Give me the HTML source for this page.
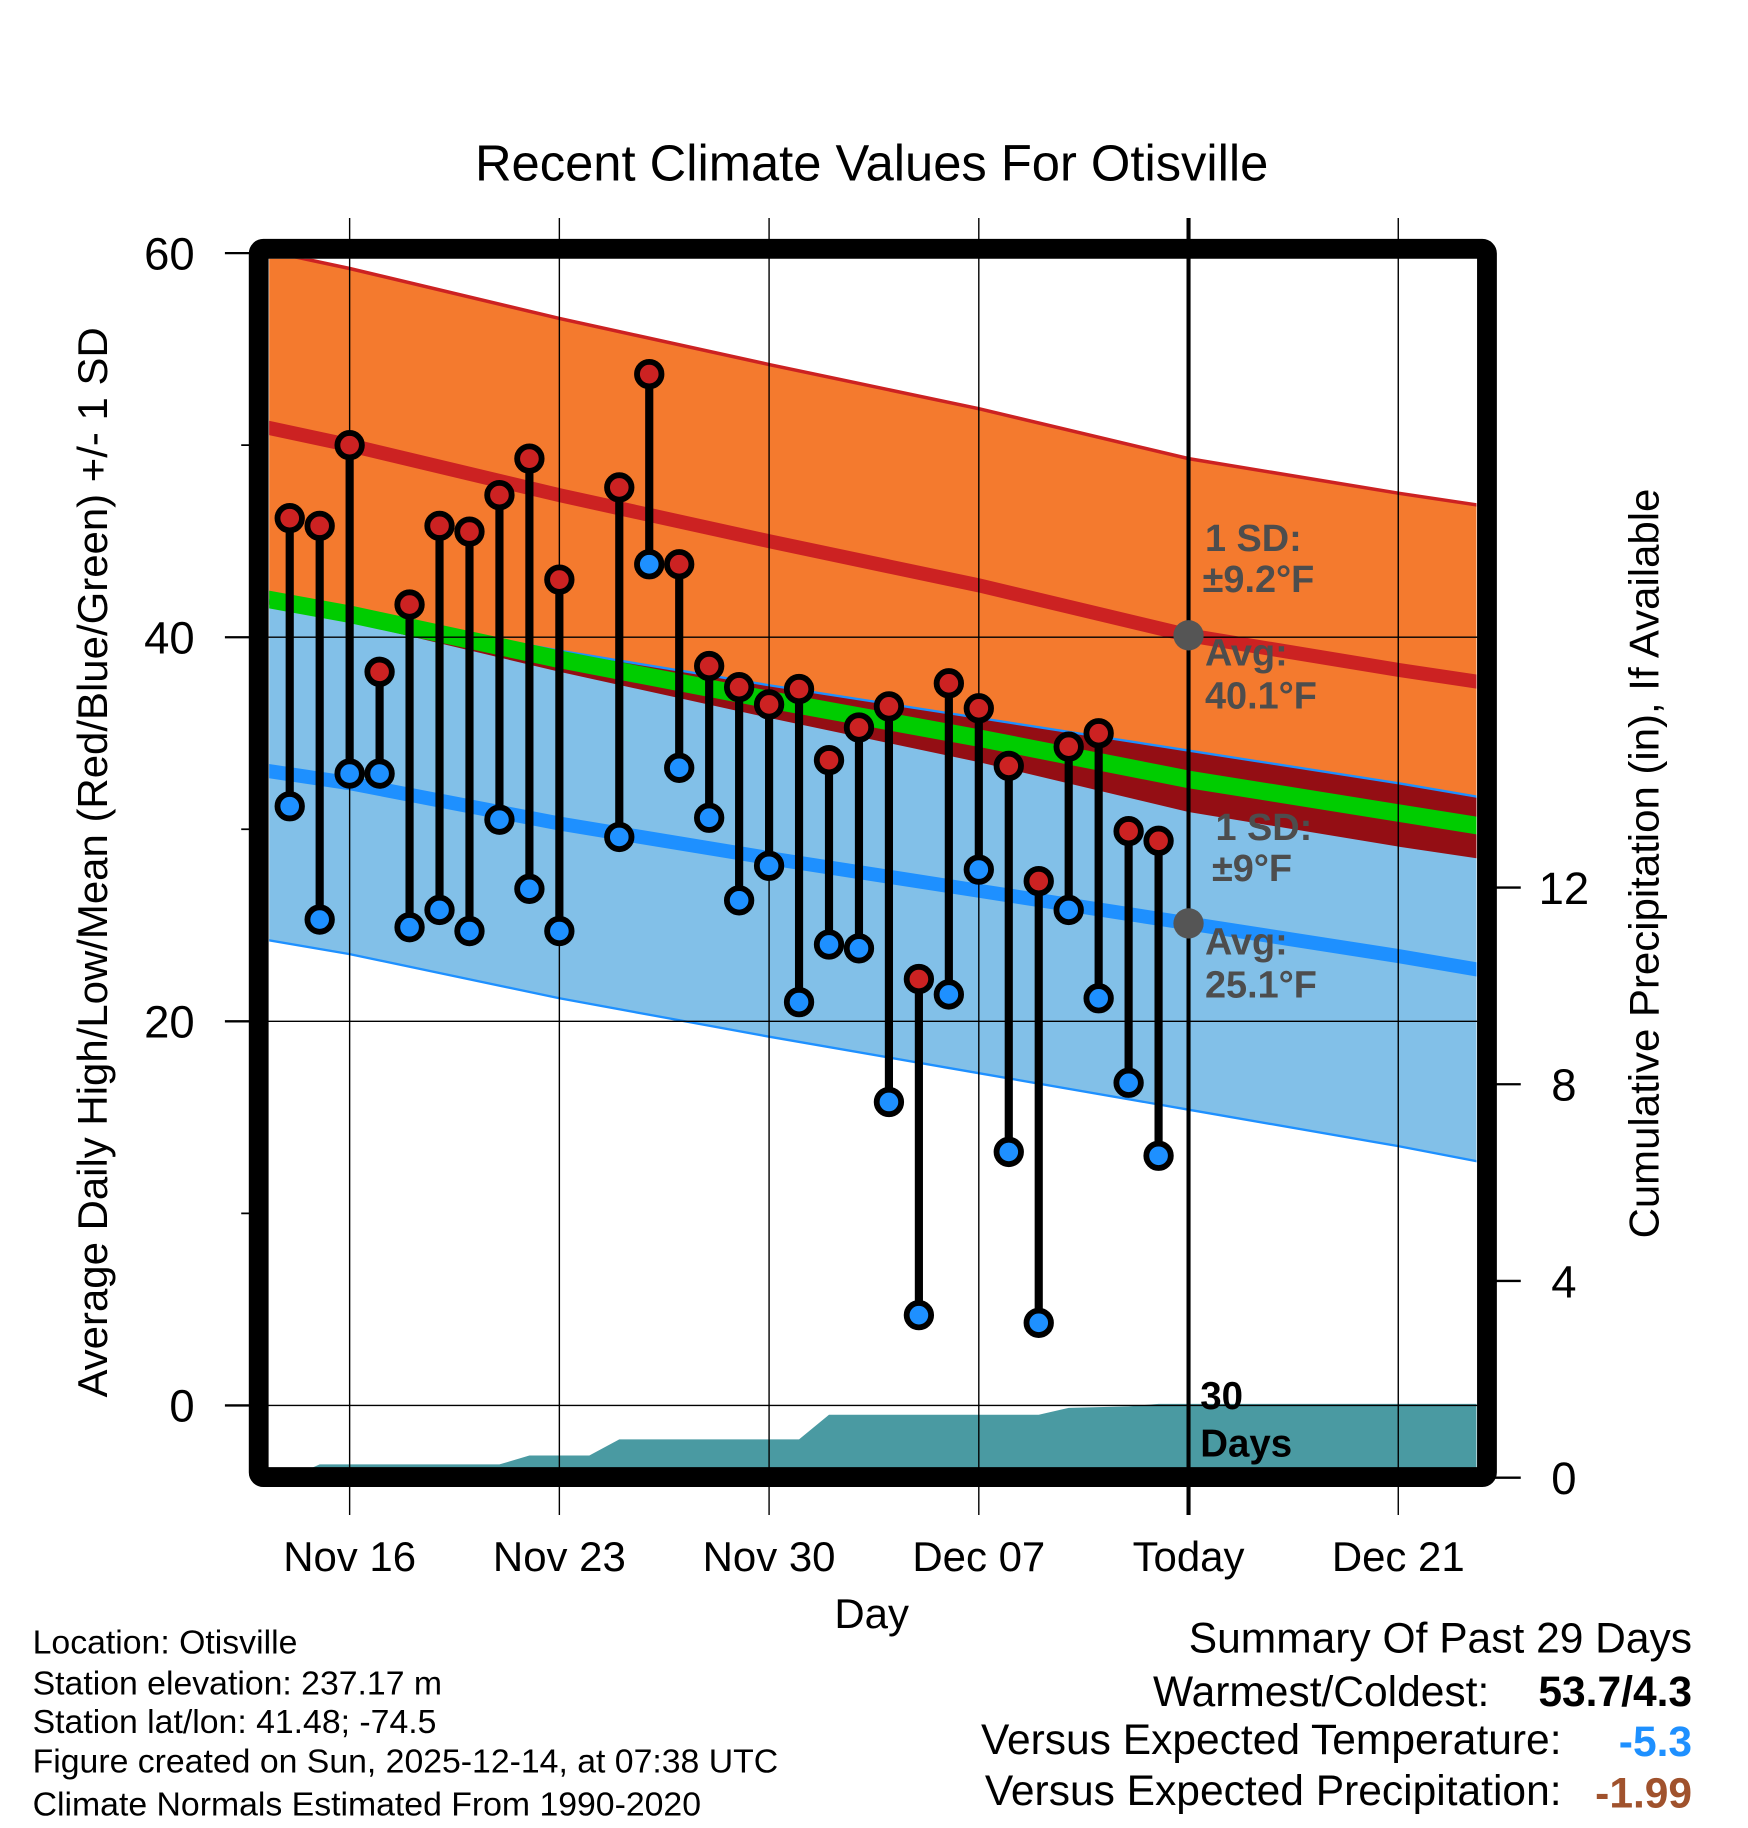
<!DOCTYPE html>
<html><head><meta charset="utf-8"><style>
html,body{margin:0;padding:0;background:#fff;}
svg{display:block;font-family:"Liberation Sans",Arial,sans-serif;}
</style></head><body>
<svg id="chart" xmlns="http://www.w3.org/2000/svg" width="1748" height="1828" viewBox="0 0 1500 1568.6">
<defs><clipPath id="plotclip"><rect x="231" y="222" width="1036" height="1038"/></clipPath></defs>
<text x="748" y="155" font-size="43.5" text-anchor="middle">Recent Climate Values For Otisville</text>
<g id="bands" clip-path="url(#plotclip)"></g>
<g id="grid"></g>
<g id="marks"></g>
<g id="axes"></g>
<text x="748" y="1397" font-size="36" text-anchor="middle">Day</text>
<text transform="translate(92,740) rotate(-90)" font-size="36" text-anchor="middle">Average Daily High/Low/Mean (Red/Blue/Green) +/- 1 SD</text>
<text transform="translate(1423,741) rotate(-90)" font-size="36" text-anchor="middle">Cumulative Precipitation (in), If Available</text>
<g font-size="29">
<text x="28" y="1419">Location: Otisville</text>
<text x="28" y="1454">Station elevation: 237.17 m</text>
<text x="28" y="1487">Station lat/lon: 41.48; -74.5</text>
<text x="28" y="1521">Figure created on Sun, 2025-12-14, at 07:38 UTC</text>
<text x="28" y="1558">Climate Normals Estimated From 1990-2020</text>
</g>
<g font-size="36.5" text-anchor="end">
<text x="1452" y="1418">Summary Of Past 29 Days</text>
<text x="1278" y="1464">Warmest/Coldest:</text>
<text x="1452" y="1464" font-weight="bold">53.7/4.3</text>
<text x="1340" y="1505">Versus Expected Temperature:</text>
<text x="1452" y="1507" font-weight="bold" fill="#1e90ff">-5.3</text>
<text x="1340" y="1549">Versus Expected Precipitation:</text>
<text x="1452" y="1551" font-weight="bold" fill="#a0522d">-1.99</text>
</g>
</svg>
<script>
// Data (days counted from Nov 13 = 0)
const normDays = [0, 3, 10, 17, 24, 31, 38, 41];
const normHigh = [51.0, 50.0, 47.4, 45.0, 42.7, 40.1, 38.3, 37.6];
const normLow = [33.1, 32.4, 30.3, 28.5, 26.8, 25.1, 23.4, 22.6];
const sdHigh = 9.2;
const sdLowUpper = [8.9, 8.9, 9.0, 9.0, 9.0, 9.0, 9.0, 9.0];
const sdLowLower = [8.8, 8.9, 9.1, 9.3, 9.5, 9.7, 9.9, 10.0];
const obsDays = [1,2,3,4,5,6,7,8,9,10,12,13,14,15,16,17,18,19,20,21,22,23,24,25,26,27,28,29,30];
const obsHigh = [46.2,45.8,50.0,38.2,41.7,45.8,45.5,47.4,49.3,43.0,47.8,53.7,43.8,38.5,37.4,36.5,37.3,33.6,35.3,36.4,22.2,37.6,36.3,33.3,27.3,34.3,35.0,29.9,29.4];
const obsLow = [31.2,25.3,32.9,32.9,24.9,25.8,24.7,30.5,26.9,24.7,29.6,43.8,33.2,30.6,26.3,28.1,21.0,24.0,23.8,15.8,4.7,21.4,27.9,13.2,4.3,25.8,21.2,16.8,13.0];
const precipDays = [0,1,2,8,9,10,11,12,18,19,26,27,29,30,41];
const precipCum = [0,0,0.27,0.27,0.45,0.45,0.45,0.78,0.78,1.28,1.28,1.42,1.45,1.5,1.5];
const xTickDays = [3,10,17,24,31,38];
const xTickLabels = ["Nov 16","Nov 23","Nov 30","Dec 07","Today","Dec 21"];
const yTicks = [0,20,40,60];
const yMinor = [10,30,50];
const pTicks = [0,4,8,12];
const todayDay = 31;

const NS = "http://www.w3.org/2000/svg";
const X = d => 222.9 + d*25.71;
const Y = v => 1206 - v*16.48;
const YP = p => 1268 - p*42.2;
function mk(tag, attrs, parent){const e=document.createElementNS(NS,tag);for(const k in attrs)e.setAttribute(k,attrs[k]);parent.appendChild(e);return e;}
const bands=document.getElementById('bands'), grid=document.getElementById('grid'), marks=document.getElementById('marks'), axes=document.getElementById('axes');
const pts = (arr, off) => normDays.map((d,i)=>X(d)+','+Y(arr[i]+(Array.isArray(off)?off[i]:off)));
const neg = a => a.map(v=>-v);
const poly = (top, bot) => top.concat(bot.slice().reverse()).join(' ');

let e;
e=mk('polygon',{points:poly(pts(normHigh,sdHigh),pts(normHigh,-sdHigh)),fill:'#f47a2e'},bands);


e=mk('polygon',{points:poly(pts(normLow,sdLowUpper),pts(normLow,neg(sdLowLower))),fill:'#82c0e8'},bands);


const ovTop = normDays.map((d,i)=>X(d)+','+Y(Math.max(normLow[i]+sdLowUpper[i], normHigh[i]-sdHigh)));
const ovBot = normDays.map((d,i)=>X(d)+','+Y(normHigh[i]-sdHigh));
e=mk('polygon',{points:poly(ovTop,ovBot),fill:'#940e14'},bands);


e=mk('polyline',{points:pts(normHigh,sdHigh).join(' '),fill:'none',stroke:'#cc2222','stroke-width':3},bands);


e=mk('polyline',{points:pts(normLow,sdLowUpper).join(' '),fill:'none',stroke:'#1e90ff','stroke-width':2},bands);


e=mk('polyline',{points:pts(normLow,neg(sdLowLower)).join(' '),fill:'none',stroke:'#1e90ff','stroke-width':2},bands);


e=mk('polyline',{points:pts(normHigh,0).join(' '),fill:'none',stroke:'#cc2222','stroke-width':12},bands);


e=mk('polyline',{points:pts(normLow,0).join(' '),fill:'none',stroke:'#1e90ff','stroke-width':12},bands);


const meanPts = normDays.map((d,i)=>X(d)+','+Y((normHigh[i]+normLow[i])/2)).join(' ');
e=mk('polyline',{points:meanPts,fill:'none',stroke:'#00cc00','stroke-width':15},bands);


// precip area
const pp = precipDays.map((d,i)=>X(d)+','+YP(precipCum[i]));
pp.push(X(41)+','+YP(0)); pp.push(X(0)+','+YP(0));
e=mk('polygon',{points:pp.join(' '),fill:'#4a9aa2'},bands);



// grid
xTickDays.forEach((d,i)=>{
  const g=mk('line',{x1:X(d),x2:X(d),y1:187,y2:1300,stroke:'#000','stroke-width':d===todayDay?3.5:1.2},grid);
  
  
  const t=mk('text',{x:X(d),y:1348,'font-size':36,'text-anchor':'middle'},axes);
  t.textContent=xTickLabels[i];
  
  
});
yTicks.forEach(v=>{
  if(v>0 && v<60){const g=mk('line',{x1:222,x2:1276,y1:Y(v),y2:Y(v),stroke:'#000','stroke-width':1.2},grid);
  
  }
  if(v===0){const g=mk('line',{x1:195,x2:1276,y1:Y(v),y2:Y(v),stroke:'#000','stroke-width':1.2},grid);
  
  }
  const tk=mk('line',{x1:193,x2:222,y1:Y(v),y2:Y(v),stroke:'#000','stroke-width':2},axes);
  
  
  const t=mk('text',{x:167,y:Y(v)+14,'font-size':39,'text-anchor':'end'},axes);
  t.textContent=v;
  
  
});
yMinor.forEach(v=>{
  const tk=mk('line',{x1:207,x2:222,y1:Y(v),y2:Y(v),stroke:'#000','stroke-width':1.5},axes);
  
  
});
pTicks.forEach(p=>{
  const tk=mk('line',{x1:1276,x2:1305,y1:YP(p),y2:YP(p),stroke:'#000','stroke-width':2},axes);
  
  
  const t=mk('text',{x:1342,y:YP(p)+14,'font-size':39,'text-anchor':'middle'},axes);
  t.textContent=p;
  
  
});

// annotations
[[Y(40.1),'avg-high-dot'],[Y(25.1),'avg-low-dot']].forEach(a=>{
  const c=mk('circle',{cx:X(todayDay),cy:a[0],r:13,fill:'#555'},marks);
  
  
});
const ann=[[1034,473,'1 SD:'],[1032,508,'±9.2°F'],[1034,571,'Avg:'],[1034,608,'40.1°F'],[1043,721,'1 SD:'],[1040,756,'±9°F'],[1034,819,'Avg:'],[1034,856,'25.1°F']];
ann.forEach(a=>{
  const t=mk('text',{x:a[0],y:a[1],'font-size':32.5,'font-weight':'bold',fill:'#4d4d4d'},marks);
  t.textContent=a[2];
  
  
});
const t30=mk('text',{x:1030,y:1209,'font-size':33,'font-weight':'bold'},marks);
t30.textContent='30';


const tD=mk('text',{x:1030,y:1250,'font-size':33,'font-weight':'bold'},marks);
tD.textContent='Days';



// observations
obsDays.forEach((d,i)=>{
  const s=mk('line',{x1:X(d),x2:X(d),y1:Y(obsHigh[i]),y2:Y(obsLow[i]),stroke:'#000','stroke-width':7},marks);
  
  
});
obsDays.forEach((d,i)=>{
  const lo=mk('circle',{cx:X(d),cy:Y(obsLow[i]),r:10.5,fill:'#1e90ff',stroke:'#000','stroke-width':5},marks);
  
  
  const hi=mk('circle',{cx:X(d),cy:Y(obsHigh[i]),r:10.5,fill:'#cc2222',stroke:'#000','stroke-width':5},marks);
  
  
});
const fr=mk('rect',{x:222,y:213.5,width:1054,height:1054,fill:'none',stroke:'#000','stroke-width':17,rx:4},axes);


</script>
</body></html>
